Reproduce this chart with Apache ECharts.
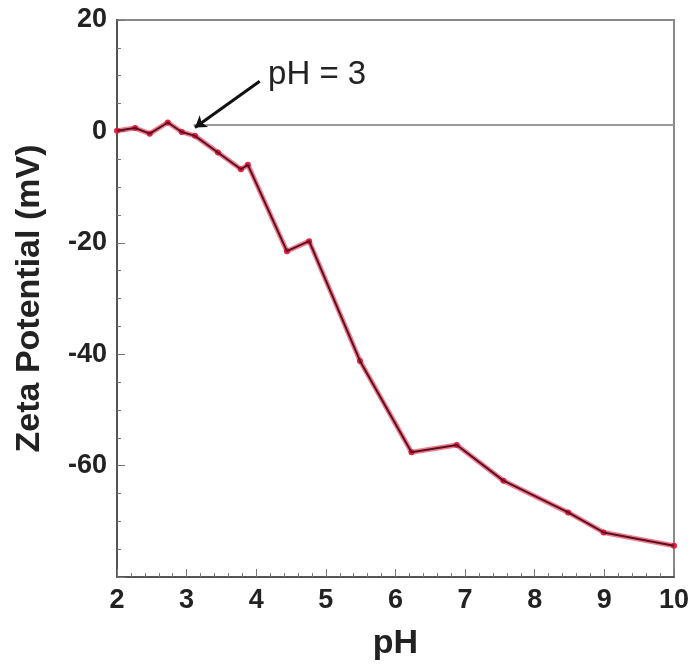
<!DOCTYPE html>
<html>
<head>
<meta charset="utf-8">
<script src="https://cdn.jsdelivr.net/npm/echarts@6/dist/echarts.min.js"></script>
<style>html,body{margin:0;padding:0;background:#fff}#c{width:692px;height:666px}</style>
</head>
<body>
<div id="c"></div>
<script>
// Data
const phValues   = [2.0, 2.26, 2.47, 2.73, 2.93, 3.12, 3.45, 3.78, 3.88, 4.44, 4.76, 5.49, 6.23, 6.88, 7.55, 8.48, 8.99, 10.0];
const zetaValues = [0.1, 0.6, -0.4, 1.6, -0.1, -0.8, -3.8, -6.8, -6.0, -21.5, -19.7, -41.2, -57.6, -56.3, -62.7, -68.4, -72.0, -74.4];
const xTicks = [2, 3, 4, 5, 6, 7, 8, 9, 10];
const yTicks = [20, 0, -20, -40, -60];
const refLineY = 1.2;            // grey reference line
const refLineX = [3.1, 10];
const arrowStart = [4.05, 9.0];  // annotation arrow (data coords)
const arrowEnd = [3.12, 0.7];
const annotText = 'pH = 3';
const annotPos = [4.17, 9.8];

const pts = phValues.map((x, i) => [x, zetaValues[i]]);
const FONT = 'Liberation Sans, Arial, sans-serif';

const chart = echarts.init(document.getElementById('c'), null, {renderer: 'canvas'});
chart.setOption({
  animation: false,
  backgroundColor: '#fff',
  grid: {left: 117, right: 18, top: 20, bottom: 88, show: true, borderColor: '#888', borderWidth: 2, backgroundColor: 'transparent'},
  xAxis: {
    type: 'value', min: 2, max: 10, interval: 1,
    name: 'pH', nameLocation: 'middle', nameGap: 50,
    nameTextStyle: {fontFamily: FONT, fontSize: 34, fontWeight: 'bold', color: '#222'},
    axisLine: {show: true, onZero: false, lineStyle: {color: '#555', width: 2}},
    axisTick: {show: true, inside: true, length: 8, lineStyle: {color: '#777'}},
    minorTick: {show: true, splitNumber: 5, length: 4, lineStyle: {color: '#777'}},
    splitLine: {show: false},
    axisLabel: {fontFamily: FONT, fontSize: 27, fontWeight: 'bold', color: '#222', margin: 10,
      formatter: v => xTicks.includes(v) ? String(v) : ''}
  },
  yAxis: {
    type: 'value', min: -80, max: 20, interval: 20,
    name: 'Zeta Potential (mV)', nameLocation: 'middle', nameGap: 70, nameRotate: 90,
    nameTextStyle: {fontFamily: FONT, fontSize: 34, fontWeight: 'bold', color: '#222'},
    axisLine: {show: true, onZero: false, lineStyle: {color: '#555', width: 2}},
    axisTick: {show: true, inside: true, length: 8, lineStyle: {color: '#777'}},
    minorTick: {show: true, splitNumber: 4, length: 4, lineStyle: {color: '#777'}},
    splitLine: {show: false},
    axisLabel: {fontFamily: FONT, fontSize: 27, fontWeight: 'bold', color: '#222', margin: 10,
      formatter: v => yTicks.includes(v) ? String(v) : ''}
  },
  series: [
    {
      type: 'line', data: pts, z: 2,
      symbol: 'circle', symbolSize: 6,
      itemStyle: {color: '#e0203f'},
      lineStyle: {color: 'rgba(232,40,70,0.6)', width: 5},
      markLine: {
        silent: true, symbol: ['none', 'none'], label: {show: false},
        lineStyle: {color: '#9a9a9a', width: 2, type: 'solid'},
        data: [[{coord: [refLineX[0], refLineY]}, {coord: [refLineX[1], refLineY]}]]
      }
    },
    {
      type: 'line', data: pts, z: 3,
      symbol: 'none',
      lineStyle: {color: '#5a1020', width: 2},
      markLine: {
        silent: true, symbol: ['none', 'arrow'], symbolSize: 11, label: {show: false},
        lineStyle: {color: '#111', width: 3, type: 'solid'},
        data: [[{coord: arrowStart}, {coord: arrowEnd}]]
      }
    }
  ]
});

const p = chart.convertToPixel({gridIndex: 0}, annotPos);
chart.setOption({
  graphic: [{
    type: 'text', left: p[0], top: p[1] - 18,
    style: {text: annotText, fontFamily: FONT, fontSize: 33, fill: '#222'}
  }]
});
</script>
</body>
</html>
